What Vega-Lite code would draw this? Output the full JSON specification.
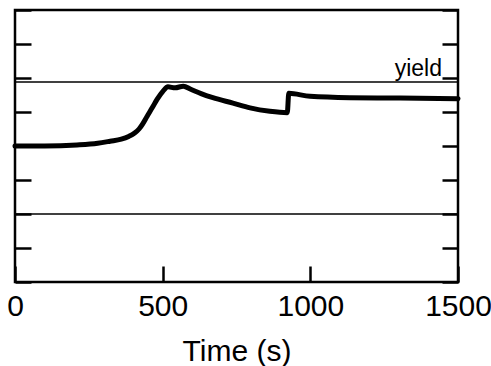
{
  "$schema": "https://vega.github.io/schema/vega-lite/v6.json",
  "width": 443,
  "height": 272,
  "autosize": {"type": "none"},
  "padding": {"left": 15, "top": 10, "right": 33, "bottom": 84},
  "background": "white",
  "config": {
    "view": {"stroke": "black", "strokeWidth": 2.5},
    "font": "Liberation Sans"
  },
  "datasets": {
    "curve": [
      {"t": 0, "v": 4.0},
      {"t": 100, "v": 4.0},
      {"t": 210, "v": 4.03},
      {"t": 280, "v": 4.08},
      {"t": 322, "v": 4.14},
      {"t": 360, "v": 4.2},
      {"t": 385, "v": 4.28},
      {"t": 405, "v": 4.38},
      {"t": 420, "v": 4.5},
      {"t": 433, "v": 4.66},
      {"t": 447, "v": 4.87},
      {"t": 465, "v": 5.13},
      {"t": 481, "v": 5.37},
      {"t": 500, "v": 5.6},
      {"t": 518, "v": 5.74},
      {"t": 542, "v": 5.71},
      {"t": 570, "v": 5.76},
      {"t": 595, "v": 5.67},
      {"t": 630, "v": 5.54},
      {"t": 670, "v": 5.42},
      {"t": 738, "v": 5.26},
      {"t": 796, "v": 5.12},
      {"t": 863, "v": 5.02},
      {"t": 922, "v": 4.98},
      {"t": 927, "v": 5.55},
      {"t": 999, "v": 5.46},
      {"t": 1134, "v": 5.42},
      {"t": 1304, "v": 5.41},
      {"t": 1500, "v": 5.39}
    ],
    "limits": [
      {"name": "yield", "v": 5.88, "label": "yield"},
      {"name": "lower", "v": 2.0, "label": ""}
    ]
  },
  "resolve": {"axis": {"y": "independent"}},
  "layer": [
    {
      "data": {"name": "limits"},
      "mark": {"type": "rule", "color": "black", "strokeWidth": 1.5},
      "encoding": {
        "y": {
          "field": "v", "type": "quantitative",
          "scale": {"domain": [0, 8], "nice": false, "zero": false},
          "axis": {"orient": "left", "labels": false, "domain": false, "grid": false, "title": null,
                   "values": [0, 1, 2, 3, 4, 5, 6, 7, 8], "tickSize": -16, "tickWidth": 2.5, "tickColor": "black"}
        }
      }
    },
    {
      "data": {"name": "curve"},
      "mark": {"type": "line", "color": "black", "strokeWidth": 5, "strokeJoin": "round", "strokeCap": "round", "interpolate": "monotone"},
      "encoding": {
        "x": {
          "field": "t", "type": "quantitative",
          "scale": {"domain": [0, 1500], "nice": false},
          "axis": {"title": "Time (s)", "values": [0, 500, 1000, 1500], "format": "d", "domain": false, "grid": false,
                   "tickSize": -16, "tickWidth": 2.5, "tickColor": "black",
                   "labelFontSize": 30, "labelColor": "black", "labelPadding": 25, "labelFlush": false,
                   "titleFontSize": 30, "titleFontWeight": "normal", "titleColor": "black", "titlePadding": 15}
        },
        "y": {
          "field": "v", "type": "quantitative",
          "scale": {"domain": [0, 8], "nice": false, "zero": false},
          "axis": {"orient": "right", "labels": false, "domain": false, "grid": false, "title": null,
                   "values": [0, 1, 2, 3, 4, 5, 6, 7, 8], "tickSize": -16, "tickWidth": 2.5, "tickColor": "black"}
        }
      }
    },
    {
      "data": {"name": "limits"},
      "transform": [{"filter": "datum.name == 'yield'"}],
      "mark": {"type": "text", "align": "right", "baseline": "alphabetic", "dx": -16, "dy": -6, "fontSize": 23, "color": "black"},
      "encoding": {
        "x": {"datum": 1500, "type": "quantitative"},
        "y": {"field": "v", "type": "quantitative", "axis": null},
        "text": {"field": "label"}
      }
    }
  ]
}
